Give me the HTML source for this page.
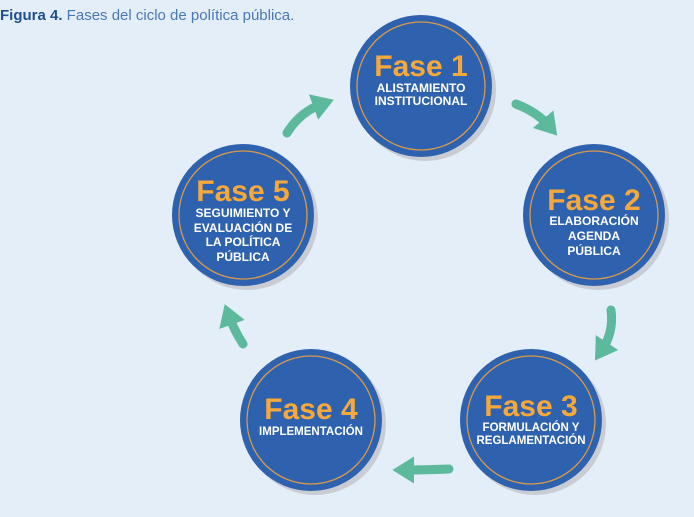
<!DOCTYPE html>
<html><head><style>
body{margin:0;width:694px;height:517px;background:#e4eef8;overflow:hidden;font-family:"Liberation Sans",sans-serif}
.t{position:absolute;left:0;top:7px;font-size:15px;color:#4a78b4}
.t b{color:#1f4f8f}
</style></head><body>
<div class="t"><b>Figura 4.</b> Fases del ciclo de política pública.</div>
<svg width="694" height="517" style="position:absolute;left:0;top:0">
<defs>
<marker id="a" markerWidth="3" markerHeight="3" refX="1" refY="1.5" orient="auto" markerUnits="strokeWidth"><path d="M0,0 L2.4,1.5 L0,3 Z" fill="#5db99b"/></marker>
</defs>
<g fill="none" stroke="#5db99b" stroke-width="9" stroke-linecap="round" marker-end="url(#a)">
<path d="M287,133 Q300,112 322,104"/>
<path d="M516,104 Q537,112 549,126"/>
<path d="M611,310 Q614,332 602,350"/>
<path d="M449,469 Q425,470 405,470"/>
<path d="M243,344 Q234,330 229,316"/>
</g>
<g font-family="Liberation Sans" font-weight="bold" text-anchor="middle">
<g transform="translate(421,86)"><circle cx="4" cy="4" r="71" fill="#c9cdd3"/><circle r="71" fill="#2f62ae"/><circle r="64" fill="none" stroke="#d79a4a" stroke-width="1.3"/>
<text y="-10" font-size="30" fill="#f7a83a">Fase 1</text><text y="6" font-size="12" fill="#fff">ALISTAMIENTO</text><text y="19" font-size="12" fill="#fff">INSTITUCIONAL</text></g>
<g transform="translate(594,215)"><circle cx="4" cy="4" r="71" fill="#c9cdd3"/><circle r="71" fill="#2f62ae"/><circle r="64" fill="none" stroke="#d79a4a" stroke-width="1.3"/>
<text y="-5" font-size="30" fill="#f7a83a">Fase 2</text><text y="10" font-size="12" fill="#fff">ELABORACIÓN</text><text y="25" font-size="12" fill="#fff">AGENDA</text><text y="40" font-size="12" fill="#fff">PÚBLICA</text></g>
<g transform="translate(531,420)"><circle cx="4" cy="4" r="71" fill="#c9cdd3"/><circle r="71" fill="#2f62ae"/><circle r="64" fill="none" stroke="#d79a4a" stroke-width="1.3"/>
<text y="-4" font-size="30" fill="#f7a83a">Fase 3</text><text y="11" font-size="11.5" fill="#fff">FORMULACIÓN Y</text><text y="24" font-size="11.5" fill="#fff">REGLAMENTACIÓN</text></g>
<g transform="translate(311,420)"><circle cx="4" cy="4" r="71" fill="#c9cdd3"/><circle r="71" fill="#2f62ae"/><circle r="64" fill="none" stroke="#d79a4a" stroke-width="1.3"/>
<text y="-1" font-size="30" fill="#f7a83a">Fase 4</text><text y="15" font-size="11.5" fill="#fff">IMPLEMENTACIÓN</text></g>
<g transform="translate(243,215)"><circle cx="4" cy="4" r="71" fill="#c9cdd3"/><circle r="71" fill="#2f62ae"/><circle r="64" fill="none" stroke="#d79a4a" stroke-width="1.3"/>
<text y="-14" font-size="30" fill="#f7a83a">Fase 5</text><text y="2" font-size="12" fill="#fff">SEGUIMIENTO Y</text><text y="17" font-size="12" fill="#fff">EVALUACIÓN DE</text><text y="31" font-size="12" fill="#fff">LA POLÍTICA</text><text y="46" font-size="12" fill="#fff">PÚBLICA</text></g>
</g>
</svg>
</body></html>
